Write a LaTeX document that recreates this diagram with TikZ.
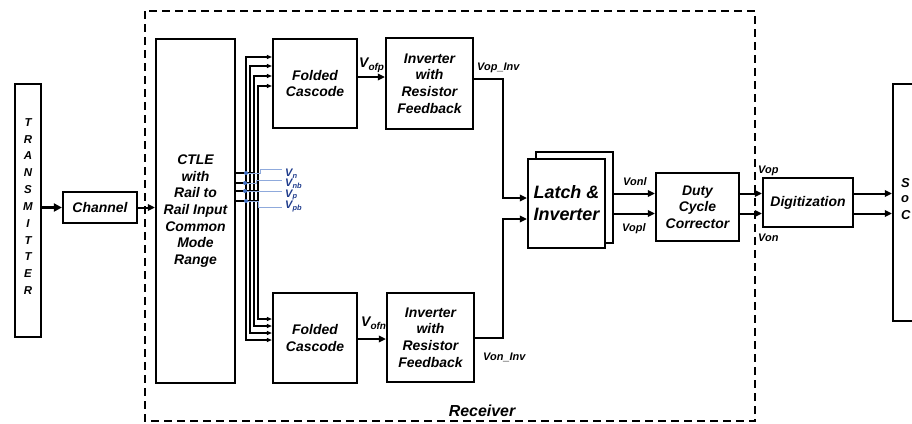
\documentclass[tikz,border=0pt]{standalone}
\usepackage{fontspec}
\setmainfont{Liberation Sans}
\usetikzlibrary{arrows.meta}
\definecolor{lblblue}{HTML}{1F3C8C}
\definecolor{leadblue}{HTML}{8FAADC}
\definecolor{dotblue}{HTML}{4472C4}
\begin{document}
\begin{tikzpicture}[x=1bp,y=-1bp,
  box/.style={draw, line width=2.2bp, inner sep=0pt, align=center, fill=white,
    font=\fontsize{14}{16.7}\selectfont\bfseries\itshape},
  conn/.style={line width=2bp, -{Triangle[length=7bp,width=6.5bp]}},
  busln/.style={line width=1.1bp, {Triangle[length=5bp,width=4bp]}-{Triangle[length=5bp,width=4bp]}},
  sig/.style={inner sep=0pt, font=\fontsize{11}{11}\selectfont\bfseries\itshape},
  leader/.style={draw=leadblue, line width=0.8bp},
  bluelbl/.style={inner sep=0pt, text=lblblue, font=\fontsize{11}{11}\selectfont\bfseries\itshape},
  txt/.style={inner sep=0pt, align=center}
]
\useasboundingbox (0,0) rectangle (912,423);
\clip (0,0) rectangle (912,423);

% receiver boundary
\draw[line width=2bp, dash pattern=on 8bp off 5bp] (145,11) rectangle (755,421);
\node[txt, anchor=base, font=\fontsize{16}{16}\selectfont\bfseries\itshape] (rx) at (482,416) {Receiver};

% boxes
\node[box, minimum width=26bp, minimum height=253bp] (tx) at (28,210.5) {};
\node[txt, font=\fontsize{11.5}{16.9}\selectfont\bfseries\itshape] (txtext) at (28,206.5) {T\\R\\A\\N\\S\\M\\I\\T\\T\\E\\R};
\node[box, minimum width=74bp, minimum height=31bp] (ch) at (100,207.5) {Channel};
\node[box, minimum width=79bp, minimum height=344bp] (ctle) at (195.5,211) {CTLE\\with\\Rail to\\Rail Input\\Common\\Mode\\Range};
\node[box, minimum width=84bp, minimum height=89bp] (fc1) at (315,83.5) {Folded\\Cascode};
\node[box, minimum width=84bp, minimum height=90bp] (fc2) at (315,338) {Folded\\Cascode};
\node[box, minimum width=87bp, minimum height=91bp] (inv1) at (429.5,83.5) {Inverter\\with\\Resistor\\Feedback};
\node[box, minimum width=87bp, minimum height=89bp] (inv2) at (430.5,337.5) {Inverter\\with\\Resistor\\Feedback};
\node[box, minimum width=77bp, minimum height=91bp] (latchb) at (574.5,197.5) {};
\node[box, minimum width=77bp, minimum height=89bp, font=\fontsize{18}{22}\selectfont\bfseries\itshape] (latch) at (566.5,203.5) {Latch \&\\Inverter};
\node[box, minimum width=83bp, minimum height=68bp] (dcc) at (697.5,207) {Duty\\Cycle\\Corrector};
\node[box, minimum width=90bp, minimum height=49bp] (dig) at (808,202.5) {Digitization};
\node[box, minimum width=80bp, minimum height=237bp] (sink) at (933,202.5) {};
\node[txt, anchor=west, font=\fontsize{13}{13}\selectfont\bfseries\itshape] (s1) at (901,183) {S};
\node[txt, anchor=west, font=\fontsize{13}{13}\selectfont\bfseries\itshape] (s2) at (901,199) {o};
\node[txt, anchor=west, font=\fontsize{13}{13}\selectfont\bfseries\itshape] (s3) at (901,215) {C};

% main connectors
\draw[line width=3.5bp, -{Triangle[length=8bp,width=8bp]}] (tx.east |- ch.west) -- (ch.west);
\draw[conn] (ch.east) -- (ch.east -| ctle.west);
\draw[conn] (fc1.east |- 0,77) -- (inv1.west |- 0,77);
\draw[conn] (fc2.east |- 0,339) -- (inv2.west |- 0,339);
\draw[conn] (inv1.east |- 0,79) -- (503,79) -- (503,198) -- (latch.west |- 0,198);
\draw[conn] (inv2.east |- 0,338) -- (503,338) -- (503,219) -- (latch.west |- 0,219);
\draw[conn] (latchb.east |- 0,193.5) -- (dcc.west |- 0,193.5);
\draw[conn] (latchb.east |- 0,213.5) -- (dcc.west |- 0,213.5);
\draw[conn] (dcc.east |- 0,193.5) -- (dig.west |- 0,193.5);
\draw[conn] (dcc.east |- 0,213.5) -- (dig.west |- 0,213.5);
\draw[conn] (dig.east |- 0,193.5) -- (sink.west |- 0,193.5);
\draw[conn] (dig.east |- 0,213.5) -- (sink.west |- 0,213.5);

% bus from CTLE to folded cascodes
\draw[busln] (fc1.west |- 0,57) -- (246,57) -- (246,340) -- (fc2.west |- 0,340);
\draw[busln] (fc1.west |- 0,66) -- (250,66) -- (250,333) -- (fc2.west |- 0,333);
\draw[busln] (fc1.west |- 0,76) -- (254,76) -- (254,326) -- (fc2.west |- 0,326);
\draw[busln] (fc1.west |- 0,86) -- (258,86) -- (258,319) -- (fc2.west |- 0,319);
\draw[line width=1.4bp] (ctle.east |- 0,173) -- (254,173);
\draw[line width=1.4bp] (ctle.east |- 0,183) -- (250,183);
\draw[line width=1.4bp] (ctle.east |- 0,191) -- (258,191);
\draw[line width=1.4bp] (ctle.east |- 0,201) -- (258,201);

% bias labels
\coordinate (d1) at (246,173);
\coordinate (d2) at (245,183);
\coordinate (d3) at (245,191);
\coordinate (d4) at (246,201);
\node[bluelbl, anchor=base west] (vn) at (285,176) {V\raisebox{-2bp}{\fontsize{7.5}{7.5}\selectfont n}};
\node[bluelbl, anchor=base west] (vnb) at (285,186.5) {V\raisebox{-2bp}{\fontsize{7.5}{7.5}\selectfont nb}};
\node[bluelbl, anchor=base west] (vp) at (285,197) {V\raisebox{-1.5bp}{\fontsize{7.5}{7.5}\selectfont p}};
\node[bluelbl, anchor=base west] (vpb) at (285,208) {V\raisebox{-2bp}{\fontsize{7.5}{7.5}\selectfont pb}};
\draw[leader] (d1) -- (260,173) -- (260,169) -- (282,169);
\draw[leader] (d2) -- (256,183) -- (256,180) -- (282,180);
\draw[leader] (d3) -- (282,191);
\draw[leader] (d4) -- (258,201) -- (258,207) -- (282,207);
\foreach \d in {d1,d2,d3,d4} \fill[dotblue] (\d) circle (2bp);

% signal labels
\node[sig, anchor=base west] (vofp) at (359,67) {\fontsize{14}{14}\selectfont V\raisebox{-3bp}{\fontsize{10}{10}\selectfont ofp}};
\node[sig, anchor=base west] (vofn) at (361,326) {\fontsize{14}{14}\selectfont V\raisebox{-3bp}{\fontsize{10}{10}\selectfont ofn}};
\node[sig, anchor=base west] (vopinv) at (477,70) {Vop\_Inv};
\node[sig, anchor=base west] (voninv) at (483,360) {Von\_Inv};
\node[sig, anchor=base west] (vonl) at (623,185) {Vonl};
\node[sig, anchor=base west] (vopl) at (622,231) {Vopl};
\node[sig, anchor=base west] (vop) at (758,173) {Vop};
\node[sig, anchor=base west] (von) at (758,241) {Von};
\end{tikzpicture}
\end{document}
